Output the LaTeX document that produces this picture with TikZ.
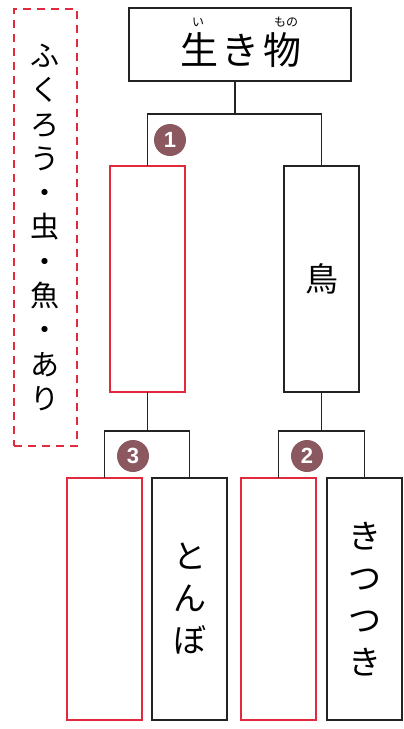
\documentclass[tikz,border=0pt]{standalone}
\usepackage{fontspec}
\newfontfamily\jp{Noto Sans CJK JP}
\newfontfamily\numf{Liberation Sans}
\definecolor{redline}{RGB}{226,42,62}
\definecolor{badge}{RGB}{139,88,96}
\definecolor{ink}{RGB}{35,35,35}
\begin{document}
\begin{tikzpicture}[x=1pt,y=-1pt,
  box/.style={draw=ink, line width=1.8pt, inner sep=0pt, outer sep=0pt, minimum width=75pt, anchor=north west, align=center, font=\jp\fontsize{33}{42}\selectfont},
  ansbox/.style={box, draw=redline},
  conn/.style={draw=ink, line width=1.8pt},
  badgec/.style={circle, fill=badge, minimum size=32pt, inner sep=0pt, text=white, font=\numf\bfseries\fontsize{22}{22}\selectfont},
  ruby/.style={font=\jp\fontsize{12}{12}\selectfont, inner sep=0pt}]
\useasboundingbox (0,0) rectangle (404,729);
\fill[white] (0,0) rectangle (404,729);
% word bank
\node[draw=redline, dash pattern=on 8pt off 6pt, line width=1.9pt, minimum width=63pt, minimum height=437pt, inner sep=0pt, anchor=north west, align=center, font=\jp\fontsize{29}{34.3}\selectfont] (bank) at (13,8) {ふ\\く\\ろ\\う\\・\\虫\\・\\魚\\・\\あ\\り};
% top box
\node[box, minimum width=222pt, minimum height=73pt] (top) at (129,8) {};
\node[font=\jp\fontsize{38}{38}\selectfont, inner sep=0pt] (topt) at (241,50) {生\hspace{4pt}き\hspace{4pt}物};
\node[ruby] (r1) at (198,22) {い};
\node[ruby] (r2) at (286,22) {もの};
% second level
\node[ansbox, minimum height=226pt] (b1) at (110,166) {};
\node[box, minimum height=226pt] (b2) at (284,166) {鳥};
% third level
\node[ansbox, minimum height=242pt] (b3) at (67,478) {};
\node[box, minimum height=242pt] (b4) at (152,478) {と\\ん\\ぼ};
\node[ansbox, minimum height=242pt] (b5) at (241,478) {};
\node[box, minimum height=242pt] (b6) at (327,478) {き\\つ\\つ\\き};
% junctions
\coordinate (j0) at (235,114);
\coordinate (j1) at (b1.south |- 0,431);
\coordinate (j2) at (b2.south |- 0,431);
\draw[conn] (top.south -| j0) -- (j0);
\draw[conn] (b1.north) |- (j0) -| (b2.north);
\draw[conn] (b1.south) -- (j1);
\draw[conn] (b3.north) |- (j1) -| (b4.north);
\draw[conn] (b2.south) -- (j2);
\draw[conn] (b5.north) |- (j2) -| (b6.north);
% badges
\node[badgec] (n1) at (170,140) {1};
\node[badgec] (n3) at (133,456) {3};
\node[badgec] (n2) at (307,456) {2};
\end{tikzpicture}
\end{document}
